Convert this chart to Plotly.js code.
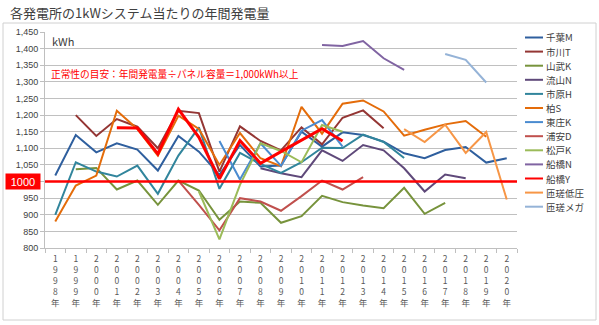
<!DOCTYPE html>
<html><head><meta charset="utf-8">
<script src="https://cdn.plot.ly/plotly-3.0.1.min.js"></script>
<style>html,body{margin:0;padding:0;background:#fff}#c{width:599px;height:325px}</style>
</head><body><div id="c"></div>
<script>
const years = [1998,1999,2000,2001,2002,2003,2004,2005,2006,2007,2008,2009,2010,2011,2012,2013,2014,2015,2016,2017,2018,2019,2020];
const N = null;
const chibaM   = [1018,1140,1088,1115,1096,1033,1137,1090,1020,1110,1045,1048,1150,1105,1148,1140,1120,1085,1070,1095,1104,1057,1070];
const ichikawaT= [N,1200,1137,1188,1165,1100,1213,1206,1030,1166,1122,1094,1163,1112,1192,1214,1160,N,N,N,N,N,N];
const sanbuK   = [N,1037,1041,976,1003,930,1003,973,885,940,936,876,896,957,938,928,920,981,903,936,N,N,N];
const nagareyamaN=[N,N,N,N,N,N,N,N,N,N,1040,1025,1013,1094,1062,1110,1094,1040,970,1021,1010,N,N];
const ichiharaH= [900,1058,1030,1015,1048,963,1078,1163,978,1086,1053,1026,1058,1102,1101,1141,1119,1071,N,N,N,N,N];
const kashiwaS = [880,988,1018,1213,1158,1078,1198,1158,1050,1146,1070,1046,1225,1144,1234,1244,1211,1138,1156,1172,1182,1135,N];
const toshoK   = [N,N,N,N,N,N,N,N,1122,1006,1115,1047,1153,1185,1105,N,N,N,N,N,N,N,N];
const urayasuD = [N,N,N,N,N,N,1003,930,853,950,940,912,956,1003,976,1013,N,N,N,N,N,N,N];
const matsudoK = [N,N,N,N,N,N,N,970,826,990,1115,1092,1058,1170,1150,N,N,N,N,N,N,N,N];
const funabashiN=[N,N,N,N,N,N,N,N,N,N,N,N,N,1411,1408,1423,1371,1336,N,N,N,N,N];
const funabashiY=[N,N,N,1162,1161,1083,1218,1133,1008,1123,1055,1090,1124,1159,1122,N,N,N,N,N,N,N,N];
const sosaLow  = [N,N,N,N,N,N,N,N,N,N,N,N,N,N,N,N,N,1158,1119,1171,1086,1149,946];
const sosaMega = [N,N,N,N,N,N,N,N,N,N,N,N,N,N,N,N,N,N,N,1384,1366,1298,N];

const names = ['千葉M','市川T','山武K','流山N','市原H','柏S','東庄K','浦安D','松戸K','船橋N','船橋Y','匝瑳低圧','匝瑳メガ'];
const series = [chibaM,ichikawaT,sanbuK,nagareyamaN,ichiharaH,kashiwaS,toshoK,urayasuD,matsudoK,funabashiN,funabashiY,sosaLow,sosaMega];
const colors = ['#2F5F9E','#943634','#77933C','#5F497A','#31859C','#E46C0A','#4A8BD0','#C0504D','#9BBB59','#8064A2','#FF0000','#F79646','#95B3D7'];
const widths = [2,2,2,2,2,2,2,2,2,2,3,2,2];
const yTicks = [800,850,900,950,1000,1050,1100,1150,1200,1250,1300,1350,1400,1450];
const threshold = 1000;
const xLabels = years.map(y => String(y).split('').join('<br>') + '<br>年');

const FONT = 'Noto Sans CJK JP, Noto Sans, sans-serif';
const traces = series.map((s,i)=>({
  x: xLabels, y: s, type:'scatter', mode:'lines', name:names[i],
  line:{color:colors[i], width:widths[i]}, connectgaps:false, showlegend:false, hoverinfo:'skip'
}));

// plot area in px: x 45..517, y 32..248
const L=45, R=517, T=32, B=248;
const px = v => (v-L)/(R-L);
const py = v => (B-v)/(B-T);

const shapes = [
  {type:'rect', xref:'paper', yref:'paper', x0:px(3), x1:px(596), y0:py(320), y1:py(23), line:{color:'#d0d0d0', width:1}, layer:'below'},
  {type:'line', xref:'paper', yref:'y', x0:0, x1:1, y0:threshold, y1:threshold, line:{color:'#FF0000', width:2.5}, layer:'above'}
];
const annotations = [
  {xref:'paper', yref:'paper', x:px(8), y:py(12), xanchor:'left', yanchor:'middle', text:'各発電所の1kWシステム当たりの年間発電量', showarrow:false, font:{family:FONT, size:13, color:'#404040'}},
  {xref:'paper', yref:'paper', x:px(50), y:py(41), xanchor:'left', yanchor:'middle', text:'kWh', showarrow:false, font:{family:FONT, size:11, color:'#404040'}},
  {xref:'paper', yref:'paper', x:px(49), y:py(74), xanchor:'left', yanchor:'middle', text:'正常性の目安：年間発電量÷パネル容量＝1,000kWh以上', showarrow:false, font:{family:FONT, size:9.7, color:'#FF0000'}},
  {xref:'paper', yref:'y', x:px(23), y:threshold, xanchor:'center', yanchor:'middle', text:'1000', showarrow:false, bgcolor:'#FF0000', width:32, height:13, font:{family:'Liberation Sans, Arial, sans-serif', size:11, color:'#FFFFFF'}}
];
names.forEach((n,i)=>{
  const yy = 37.5 + i*14.1;
  shapes.push({type:'line', xref:'paper', yref:'paper', x0:px(525), x1:px(543), y0:py(yy), y1:py(yy), line:{color:colors[i], width:2}});
  annotations.push({xref:'paper', yref:'paper', x:px(544), y:py(yy), xanchor:'left', yanchor:'middle', text:n, showarrow:false, font:{family:FONT, size:9.5, color:'#404040'}});
});

const layout = {
  width:599, height:325, paper_bgcolor:'#fff', plot_bgcolor:'#fff',
  margin:{l:L, r:599-R, t:T, b:325-B},
  showlegend:false,
  xaxis:{type:'category', range:[-0.5, years.length-0.5], tickson:'boundaries', ticks:'outside', ticklen:4, tickcolor:'#bfbfbf',
    showline:true, linecolor:'#bfbfbf', showgrid:false, tickangle:0, ticklabelstandoff:3,
    tickfont:{family:FONT, size:8.5, color:'#595959'}, fixedrange:true},
  yaxis:{range:[800,1450], tickvals:yTicks, ticktext:yTicks.map(v=> v===threshold ? '' : v.toLocaleString('en-US')),
    showgrid:true, gridcolor:'#c0c0c0', gridwidth:1, showline:true, linecolor:'#bfbfbf', ticks:'outside', ticklen:4, tickcolor:'#bfbfbf',
    tickfont:{family:'Liberation Sans, Arial, sans-serif', size:9, color:'#404040'}, zeroline:false, fixedrange:true},
  shapes, annotations
};
Plotly.newPlot('c', traces, layout, {staticPlot:true});
</script></body></html>
